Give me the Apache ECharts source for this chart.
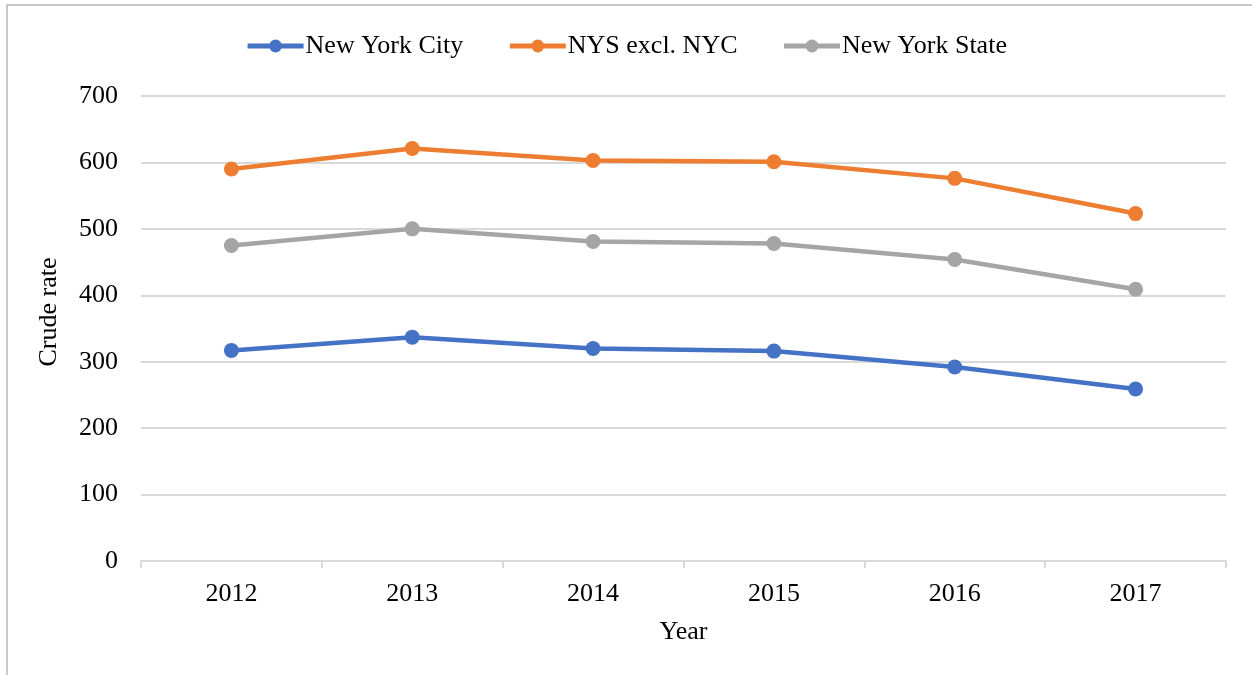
<!DOCTYPE html>
<html>
<head>
<meta charset="utf-8">
<style>
  html, body { margin: 0; padding: 0; background: #fff; }
  #frame { position: absolute; left: 6px; top: 4px; width: 1260px; height: 690px;
           border-left: 2px solid #c8c8c8; border-top: 2px solid #c8c8c8; }
  #chart { position: absolute; left: 0; top: 0; width: 1252px; height: 675px; }
</style>
<script src="https://cdn.jsdelivr.net/npm/echarts@6/dist/echarts.min.js"></script>
</head>
<body>
<div id="frame"></div>
<div id="chart"></div>
<script>
// Crude rate by year for three regions
const years = ['2012', '2013', '2014', '2015', '2016', '2017'];
const newYorkCity = [317, 337, 320, 316, 292, 259];
const nysExclNyc = [590, 621, 603, 601, 576, 523];
const newYorkState = [475, 500, 481, 478, 454, 409];
const seriesNames = ['New York City', 'NYS excl. NYC', 'New York State'];
const seriesColors = ['#4472C4', '#ED7D31', '#A5A5A5'];

const font = 'Liberation Serif, Times New Roman, serif';
const fs = 26;
const chart = echarts.init(document.getElementById('chart'), null, { renderer: 'canvas' });

function lineSeries(name, data, color) {
  return {
    name, type: 'line', data,
    symbol: 'circle', symbolSize: 15,
    lineStyle: { width: 4.5, color },
    itemStyle: { color },
    emphasis: { disabled: true },
    animation: false
  };
}

chart.setOption({
  backgroundColor: 'transparent',
  animation: false,
  legend: {
    top: 28, left: 'center', itemGap: 44, itemWidth: 56, itemHeight: 16,
    lineStyle: { width: 5 },
    textStyle: { fontFamily: font, fontSize: fs, color: '#000', padding: [0, 0, 0, -3] },
    data: seriesNames
  },
  grid: { left: 141, right: 26, top: 96, bottom: 114 },
  xAxis: {
    type: 'category', data: years, boundaryGap: true,
    name: 'Year', nameLocation: 'middle', nameGap: 58,
    nameTextStyle: { fontFamily: font, fontSize: fs, color: '#000' },
    axisLine: { lineStyle: { color: '#d9d9d9', width: 2 } },
    axisTick: { show: true, length: 7, lineStyle: { color: '#d9d9d9', width: 2 } },
    axisLabel: { fontFamily: font, fontSize: fs, color: '#000', margin: 20 }
  },
  yAxis: {
    type: 'value', min: 0, max: 700, interval: 100,
    axisLine: { show: false }, axisTick: { show: false },
    splitLine: { lineStyle: { color: '#d9d9d9', width: 2 } },
    axisLabel: { fontFamily: font, fontSize: fs, color: '#000', margin: 23 }
  },
  graphic: [{
    type: 'text', x: 49, y: 312, rotation: Math.PI / 2,
    style: { text: 'Crude rate', font: fs + 'px ' + font, fill: '#000',
             align: 'center', verticalAlign: 'middle' }
  }],
  series: [
    lineSeries(seriesNames[0], newYorkCity, seriesColors[0]),
    lineSeries(seriesNames[1], nysExclNyc, seriesColors[1]),
    lineSeries(seriesNames[2], newYorkState, seriesColors[2])
  ]
});
</script>
</body>
</html>
